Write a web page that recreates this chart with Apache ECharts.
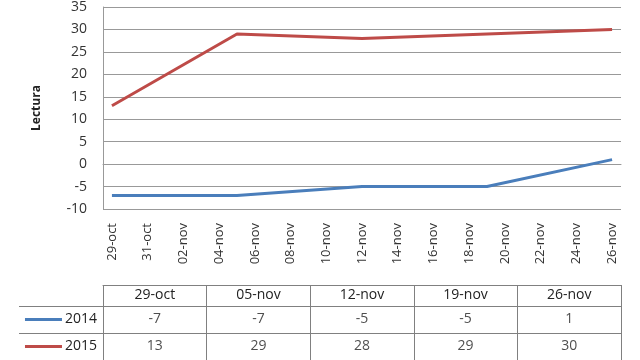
<!DOCTYPE html>
<html><head><meta charset="utf-8">
<script src="https://cdn.jsdelivr.net/npm/echarts@6/dist/echarts.min.js"></script>
<style>html,body{margin:0;padding:0;background:#fff}#c{width:640px;height:360px}</style>
</head><body><div id="c"></div>
<script>
var days = ['29-oct','30-oct','31-oct','01-nov','02-nov','03-nov','04-nov','05-nov','06-nov','07-nov','08-nov','09-nov','10-nov','11-nov','12-nov','13-nov','14-nov','15-nov','16-nov','17-nov','18-nov','19-nov','20-nov','21-nov','22-nov','23-nov','24-nov','25-nov','26-nov'];
var weekDates = ['29-oct','05-nov','12-nov','19-nov','26-nov'];
var seriesNames = ['2014','2015'];
var v2014 = [-7,-7,-5,-5,1];
var v2015 = [13,29,28,29,30];
var yTicks = [-10,-5,0,5,10,15,20,25,30,35];

var colors = {'2014':'#4a7ebb','2015':'#be4b48'};
var font = 'Open Sans';
var txt = '#333333';
var gridCol = '#999999';
var tableCol = '#808080';

function pairs(vals){ return weekDates.map(function(d,i){ return [d, vals[i]]; }); }
function cells(name, vals){ return weekDates.map(function(d,i){ return {value:[d, name, vals[i]]}; }); }

var chart = echarts.init(document.getElementById('c'), null, {renderer:'canvas'});
chart.setOption({
  animation:false,
  textStyle:{fontFamily:font},
  grid:[
    {left:103, right:19, top:5, bottom:151},
    {left:103, right:19, top:306, height:58}
  ],
  xAxis:[
    {gridIndex:0, type:'category', data:days, boundaryGap:true,
     axisLine:{show:true, lineStyle:{color:gridCol}}, axisTick:{show:false},
     axisLabel:{interval:1, rotate:90, margin:14, fontSize:13, color:txt, fontFamily:font},
     splitLine:{show:false}},
    {gridIndex:1, type:'category', data:weekDates, position:'top', boundaryGap:true,
     axisLine:{show:true, lineStyle:{color:tableCol}},
     axisTick:{show:true, length:21, lineStyle:{color:tableCol}},
     axisLabel:{margin:4, fontSize:14, color:'#222', fontFamily:font},
     splitLine:{show:true, lineStyle:{color:tableCol}}},
    {gridIndex:1, type:'category', data:weekDates, position:'top', offset:21,
     axisLine:{show:true, lineStyle:{color:tableCol}}, axisTick:{show:false}, axisLabel:{show:false}}
  ],
  yAxis:[
    {gridIndex:0, type:'value', min:-10, max:35, interval:5,
     name:'Lectura', nameLocation:'middle', nameGap:60, nameRotate:90,
     nameTextStyle:{fontWeight:'bold', fontSize:12, color:'#222', fontFamily:font},
     axisLine:{show:true, lineStyle:{color:gridCol}}, axisTick:{show:false},
     axisLabel:{margin:16, fontSize:14, color:txt, fontFamily:font,
       formatter:function(v){ return yTicks.indexOf(v)>=0 ? String(v) : ''; }},
     splitLine:{show:true, lineStyle:{color:gridCol, width:1}}},
    {gridIndex:1, type:'category', data:seriesNames, inverse:true, boundaryGap:true,
     axisLine:{show:true, lineStyle:{color:tableCol}},
     axisTick:{show:true, length:84, lineStyle:{color:tableCol}},
     axisLabel:{margin:6, fontSize:14, color:'#222', fontFamily:font,
       formatter:function(v){ return '{k' + v + '|}{t|' + v + '}'; },
       rich:{
         k2014:{width:37, height:3, backgroundColor:colors['2014']},
         k2015:{width:37, height:3, backgroundColor:colors['2015']},
         t:{padding:[0,0,0,3], fontSize:14, color:'#222', fontFamily:font}
       }},
     splitLine:{show:true, lineStyle:{color:tableCol}}},
    {gridIndex:1, type:'category', data:seriesNames, inverse:true, offset:84,
     axisLine:{show:true, lineStyle:{color:tableCol}}, axisTick:{show:false}, axisLabel:{show:false}},
    {gridIndex:1, type:'category', data:seriesNames, inverse:true, position:'right',
     axisLine:{show:true, lineStyle:{color:tableCol}}, axisTick:{show:false}, axisLabel:{show:false}}
  ],
  series:[
    {name:'2014', type:'line', xAxisIndex:0, yAxisIndex:0, data:pairs(v2014),
     showSymbol:false, symbol:'none', lineStyle:{color:colors['2014'], width:3}, itemStyle:{color:colors['2014']}},
    {name:'2015', type:'line', xAxisIndex:0, yAxisIndex:0, data:pairs(v2015),
     showSymbol:false, symbol:'none', lineStyle:{color:colors['2015'], width:3}, itemStyle:{color:colors['2015']}},
    {type:'scatter', xAxisIndex:1, yAxisIndex:1, symbolSize:0, data:cells('2014', v2014).concat(cells('2015', v2015)),
     label:{show:true, position:'inside', fontSize:14, color:'#222', fontFamily:font,
       formatter:function(p){ return String(p.value[2]); }}}
  ]
});
</script></body></html>
